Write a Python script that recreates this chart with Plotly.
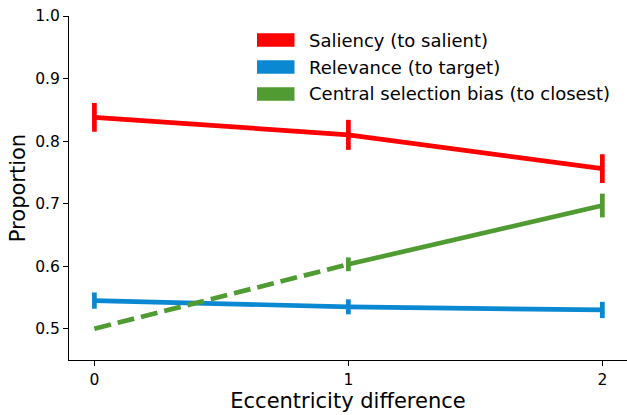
import plotly.graph_objects as go

# Eccentricity difference levels
ecc = [0, 1, 2]

# Proportion of first saccades, with standard errors
saliency = [0.838, 0.810, 0.756]
saliency_err = [0.023, 0.024, 0.023]

relevance = [0.545, 0.535, 0.530]
relevance_err = [0.013, 0.012, 0.013]

central_bias = [0.500, 0.603, 0.697]
central_bias_err = [0.0, 0.011, 0.019]

labels = ["Saliency (to salient)", "Relevance (to target)",
          "Central selection bias (to closest)"]
colors = ["#ff0000", "#0a88d1", "#519b33"]

LW = 4.7
FONT = "DejaVu Sans"

fig = go.Figure()

# Saliency
fig.add_trace(go.Scatter(
    x=ecc, y=saliency, mode="lines",
    line=dict(color=colors[0], width=LW),
    error_y=dict(type="data", array=saliency_err, color=colors[0],
                 thickness=LW, width=0),
    showlegend=False))

# Relevance
fig.add_trace(go.Scatter(
    x=ecc, y=relevance, mode="lines",
    line=dict(color=colors[1], width=LW),
    error_y=dict(type="data", array=relevance_err, color=colors[1],
                 thickness=LW, width=0),
    showlegend=False))

# Central selection bias: chance-level anchor at 0 (dashed), measured at 1 and 2
fig.add_trace(go.Scatter(
    x=ecc[:2], y=central_bias[:2], mode="lines",
    line=dict(color=colors[2], width=LW, dash="17px,7px"),
    showlegend=False))
fig.add_trace(go.Scatter(
    x=ecc[1:], y=central_bias[1:], mode="lines",
    line=dict(color=colors[2], width=LW),
    error_y=dict(type="data", array=central_bias_err[1:], color=colors[2],
                 thickness=LW, width=0),
    showlegend=False))

# Legend drawn as colour patches with text
L, R, T, B = 69, 0, 16, 55
W, H = 627, 415
pw, ph = W - L - R, H - T - B


def px(xp):
    return (xp - L) / pw


def py(yp):
    return (H - B - yp) / ph


shapes = []
annotations = []
rows = [40.0, 67.0, 94.0]
for lab, col, yc in zip(labels, colors, rows):
    shapes.append(dict(type="rect", xref="paper", yref="paper",
                       x0=px(257), x1=px(294.5), y0=py(yc + 6.7), y1=py(yc - 6.7),
                       fillcolor=col, line=dict(width=0)))
    annotations.append(dict(xref="paper", yref="paper", x=px(307), y=py(yc),
                            xanchor="left", yanchor="middle", showarrow=False,
                            text=lab, font=dict(family=FONT, size=18, color="black")))

fig.update_layout(
    width=W, height=H,
    margin=dict(l=L, r=R, t=T, b=B, pad=0),
    paper_bgcolor="white", plot_bgcolor="white",
    font=dict(family=FONT, color="black"),
    shapes=shapes, annotations=annotations,
    xaxis=dict(
        range=[-0.1, 2.097], tickvals=ecc, ticktext=[str(v) for v in ecc],
        showgrid=False, zeroline=False, showline=True, linecolor="black",
        linewidth=1.1, ticks="outside", ticklen=5, tickwidth=1.1, tickcolor="black",
        tickfont=dict(family=FONT, size=15.5, color="black"),
        title=dict(text="Eccentricity difference", standoff=5,
                   font=dict(family=FONT, size=21, color="black")),
    ),
    yaxis=dict(
        range=[0.45, 1.0], tickvals=[0.5, 0.6, 0.7, 0.8, 0.9, 1.0], tickformat=".1f",
        showgrid=False, zeroline=False, showline=True, linecolor="black",
        linewidth=1.1, ticks="outside", ticklen=5, tickwidth=1.1, tickcolor="black",
        tickfont=dict(family=FONT, size=15.5, color="black"),
        title=dict(text="Proportion", standoff=3,
                   font=dict(family=FONT, size=21, color="black")),
    ),
)

fig.write_html("out.html")
